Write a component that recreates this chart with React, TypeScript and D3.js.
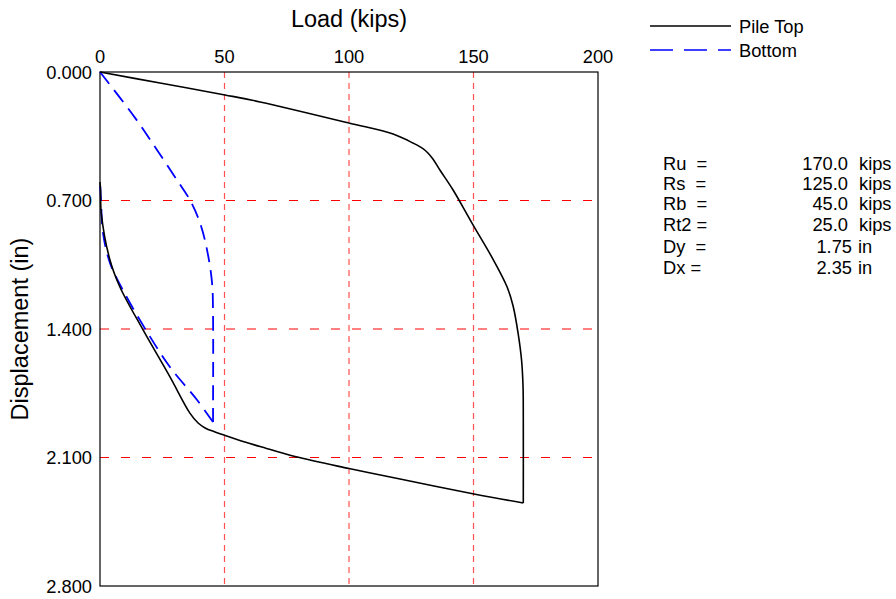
import React from "react";
import * as d3 from "d3";

// Load (kips) vs displacement (in)
const pileTopLoad = [0, 24.1, 50.2, 64.3, 100.3, 117.7, 125.7, 129.7, 131.7, 133.7, 136.5, 141.8, 149.8, 157.8, 163.5, 165.9, 167.9, 169.3, 169.9, 170, 170, 150.2, 120.5, 100, 78.3, 64.3, 58.2, 50.2, 46.2, 42.2, 39.4, 36.1, 28.1, 17.3, 8, 4, 0.5, 0.2, 0];
const pileTopDisp = [0, 0.06, 0.125, 0.163, 0.279, 0.338, 0.387, 0.417, 0.441, 0.474, 0.534, 0.643, 0.833, 1.019, 1.171, 1.275, 1.422, 1.569, 1.716, 1.896, 2.348, 2.299, 2.217, 2.16, 2.095, 2.04, 2.016, 1.98, 1.961, 1.939, 1.912, 1.858, 1.661, 1.405, 1.171, 1.024, 0.768, 0.64, 0.6];

const bottomLoad = [0, 14.1, 22.9, 30.9, 36.1, 40.2, 43, 45, 45.4, 45.4, 45.4, 39, 28.1, 18.9, 9.2, 4, 1.2, 0.4, 0];
const bottomDisp = [0, 0.25, 0.425, 0.588, 0.697, 0.823, 0.97, 1.149, 1.335, 1.84, 1.907, 1.787, 1.607, 1.416, 1.188, 1.04, 0.877, 0.697, 0.6];

const xTicks = [0, 50, 100, 150, 200];
const yTicks = [0, 0.7, 1.4, 2.1, 2.8];

const paramNames = ["Ru  =", "Rs  =", "Rb  =", "Rt2 =", "Dy  =", "Dx ="];
const paramValues = ["170.0", "125.0", "45.0", "25.0", "1.75", "2.35"];
const paramUnits = ["kips", "kips", "kips", "kips", "in", "in"];

const seriesNames = ["Pile Top", "Bottom"];

export default function App() {
  const W = 896, H = 599;
  const left = 100, right = 598, top = 72, bottom = 586;
  const x = d3.scaleLinear().domain([0, 200]).range([left, right]);
  const y = d3.scaleLinear().domain([0, 2.8]).range([top, bottom]);
  const font = "'Liberation Sans', Arial, sans-serif";
  const fs = 18.3;

  const topPts: [number, number][] = pileTopLoad.map((v, i) => [v, pileTopDisp[i]]);
  const botPts: [number, number][] = bottomLoad.map((v, i) => [v, bottomDisp[i]]);
  const line = d3.line<[number, number]>().x(d => x(d[0])).y(d => y(d[1])).curve(d3.curveCatmullRom.alpha(0.5));
  // split at sharp corners (max displacement points)
  const topCorner = pileTopDisp.indexOf(d3.max(pileTopDisp) as number);
  const botCorner = bottomDisp.indexOf(d3.max(bottomDisp) as number);
  const topA = topPts.slice(0, topCorner + 1), topB = topPts.slice(topCorner);
  const botA = botPts.slice(0, botCorner + 1), botB = botPts.slice(botCorner);

  const rowY = [170, 190, 210, 231, 253, 274];
  const valueEnd = [848, 848, 848, 848, 852, 852];
  const unitStart = [859, 859, 859, 859, 858, 858];

  return (
    <svg width={W} height={H} style={{ position: "absolute", left: 0, top: 0, fontFamily: font }}>
      <rect x={0} y={0} width={W} height={H} fill="#fff" />
      {/* grid */}
      {xTicks.slice(1, -1).map(t => (
        <line key={"gx" + t} x1={x(t)} x2={x(t)} y1={top} y2={bottom} stroke="#ff3333" strokeOpacity={0.85} strokeWidth={1.2} strokeDasharray="6,5" />
      ))}
      {yTicks.slice(1, -1).map(t => (
        <line key={"gy" + t} x1={left} x2={right} y1={y(t)} y2={y(t)} stroke="#ff0000" strokeWidth={1} strokeDasharray="9,12" />
      ))}
      {/* frame */}
      <rect x={left} y={top} width={right - left} height={bottom - top} fill="none" stroke="#000" strokeWidth={1.2} />
      {/* series */}
      <path d={line(botA) || ""} fill="none" stroke="#0000ff" strokeWidth={1.8} strokeDasharray="15,8" />
      <path d={line(botB) || ""} fill="none" stroke="#0000ff" strokeWidth={1.8} strokeDasharray="15,8" />
      <path d={line(topA) || ""} fill="none" stroke="#000" strokeWidth={1.6} />
      <path d={line(topB) || ""} fill="none" stroke="#000" strokeWidth={1.6} />
      {/* x tick labels */}
      {xTicks.map(t => (
        <text key={"xt" + t} x={x(t)} y={63} textAnchor="middle" fontSize={fs} fill="#000">{t}</text>
      ))}
      {/* y tick labels */}
      {yTicks.map(t => (
        <text key={"yt" + t} x={92} y={y(t) + 6.5} textAnchor="end" fontSize={fs} fill="#000">{t.toFixed(3)}</text>
      ))}
      <text x={(left + right) / 2} y={27} textAnchor="middle" fontSize={23.5} fill="#000">Load (kips)</text>
      <text transform={`translate(28,${(top + bottom) / 2}) rotate(-90)`} textAnchor="middle" fontSize={23.5} fill="#000">Displacement (in)</text>
      {/* legend */}
      <line x1={650} x2={731} y1={26} y2={26} stroke="#000" strokeWidth={1.5} />
      <text x={739} y={32.5} fontSize={fs} fill="#000">{seriesNames[0]}</text>
      <line x1={650} x2={731} y1={50} y2={50} stroke="#0000ff" strokeWidth={1.5} strokeDasharray="23,11" />
      <text x={739} y={56.5} fontSize={fs} fill="#000">{seriesNames[1]}</text>
      {/* parameters */}
      {paramNames.map((n, i) => (
        <g key={"p" + i}>
          <text x={663} y={rowY[i]} fontSize={fs} fill="#000" style={{ whiteSpace: "pre" }}>{n}</text>
          <text x={valueEnd[i]} y={rowY[i]} textAnchor="end" fontSize={fs} fill="#000">{paramValues[i]}</text>
          <text x={unitStart[i]} y={rowY[i]} fontSize={fs} fill="#000">{paramUnits[i]}</text>
        </g>
      ))}
    </svg>
  );
}
